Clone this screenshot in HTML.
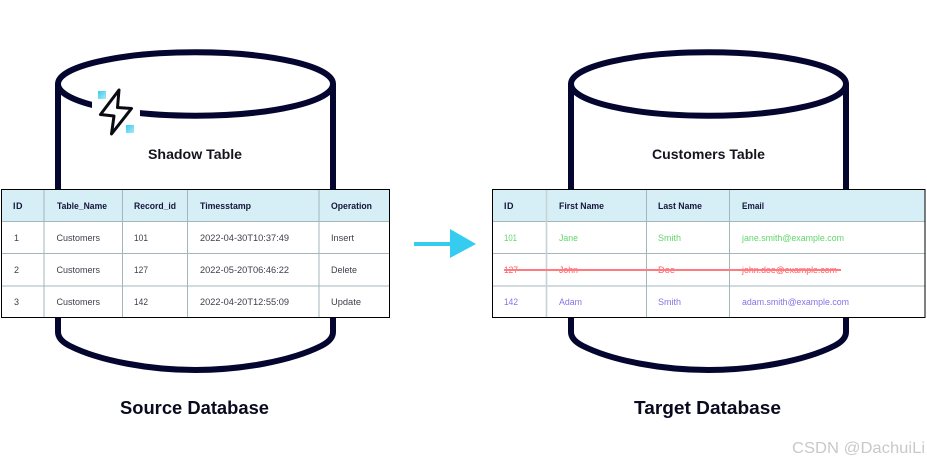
<!DOCTYPE html>
<html><head><meta charset="utf-8"><style>
html,body{margin:0;padding:0;background:#fff;width:927px;height:462px;overflow:hidden}
svg{display:block}
text{font-family:"Liberation Sans",sans-serif}
.h{font-size:9px;font-weight:bold;fill:#14163a}
.b{font-size:9px;fill:#3c3f4a}
.g{font-size:9px;fill:#62d66c}
.r{font-size:9px;fill:#ff5a60}
.p{font-size:9px;fill:#8474e6}
.t{font-size:14px;font-weight:bold;fill:#14141e}
.d{font-size:18px;font-weight:bold;fill:#0a0a1e}
.grid{stroke:#a3b6ba;stroke-width:1;fill:none}
</style></head><body>
<svg width="927" height="462" viewBox="0 0 927 462" xmlns="http://www.w3.org/2000/svg">
<defs>
<linearGradient id="q" x1="0" y1="0" x2="1" y2="1"><stop offset="0" stop-color="#3ccbef"/><stop offset="1" stop-color="#a5e9f5"/></linearGradient>
<filter id="s" x="-2%" y="-5%" width="104%" height="110%"><feGaussianBlur stdDeviation="0.3"/></filter>
</defs>

<g fill="none" stroke="#05062f" stroke-width="6">
<ellipse cx="195.5" cy="84" rx="137.5" ry="31.7"/>
<path d="M58 84V190M333 84V190"/>
<path d="M58 318V332Q58 340 70 346C100 361 150 370 195.5 370C241 370 291 361 321 346Q333 340 333 332V318"/>
<ellipse cx="708.5" cy="84" rx="137.5" ry="31.7"/>
<path d="M571 84V190M846 84V190"/>
<path d="M571 318V332Q571 340 583 346C613 361 663 370 708.5 370C754 370 804 361 834 346Q846 340 846 332V318"/>
</g>
<rect x="92" y="100" width="48" height="26" fill="#fff"/>

<path d="M119 90L100.5 114.5L114 116L111.5 134L131.5 108.5L117.5 107.5Z" fill="#fff" stroke="#0a0a12" stroke-width="3" stroke-linejoin="round"/>
<rect x="98" y="91" width="8" height="8" fill="url(#q)"/>
<rect x="126" y="125" width="8" height="8" fill="url(#q)"/>

<text class="t" x="148" y="159" textLength="94" lengthAdjust="spacingAndGlyphs">Shadow Table</text>
<text class="t" x="652" y="159" textLength="113" lengthAdjust="spacingAndGlyphs">Customers Table</text>
<text class="d" x="120" y="414" textLength="149" lengthAdjust="spacingAndGlyphs">Source Database</text>
<text class="d" x="634" y="414" textLength="147" lengthAdjust="spacingAndGlyphs">Target Database</text>

<!-- left table -->
<rect x="1.5" y="189.5" width="388" height="128" fill="#fff"/>
<rect x="1.5" y="189.5" width="388" height="32" fill="#d6eff6"/>
<path class="grid" d="M1.5 221.5H389.5M1.5 253.5H389.5M1.5 286H389.5"/>
<path class="grid" d="M44 189.5V317.5M122.5 189.5V317.5M187.5 189.5V317.5M319 189.5V317.5"/>
<rect x="1.5" y="189.5" width="388" height="128" fill="none" stroke="#000" stroke-width="1"/>
<g filter="url(#s)">
<text class="h" x="13" y="209" textLength="9.5">ID</text>
<text class="h" x="57" y="209" textLength="50" lengthAdjust="spacingAndGlyphs">Table_Name</text>
<text class="h" x="134" y="209" textLength="42" lengthAdjust="spacingAndGlyphs">Record_id</text>
<text class="h" x="200" y="209" textLength="51" lengthAdjust="spacingAndGlyphs">Timesstamp</text>
<text class="h" x="331" y="209" textLength="41" lengthAdjust="spacingAndGlyphs">Operation</text>
<text class="b" x="14" y="241">1</text><text class="b" x="56.5" y="241" textLength="43.5" lengthAdjust="spacingAndGlyphs">Customers</text><text class="b" x="134" y="241" textLength="14" lengthAdjust="spacingAndGlyphs">101</text><text class="b" x="200" y="241" textLength="89" lengthAdjust="spacingAndGlyphs">2022-04-30T10:37:49</text><text class="b" x="331" y="241" textLength="23" lengthAdjust="spacingAndGlyphs">Insert</text>
<text class="b" x="14" y="273">2</text><text class="b" x="56.5" y="273" textLength="43.5" lengthAdjust="spacingAndGlyphs">Customers</text><text class="b" x="134" y="273" textLength="14" lengthAdjust="spacingAndGlyphs">127</text><text class="b" x="200" y="273" textLength="89" lengthAdjust="spacingAndGlyphs">2022-05-20T06:46:22</text><text class="b" x="331" y="273" textLength="26" lengthAdjust="spacingAndGlyphs">Delete</text>
<text class="b" x="14" y="305">3</text><text class="b" x="56.5" y="305" textLength="43.5" lengthAdjust="spacingAndGlyphs">Customers</text><text class="b" x="134" y="305" textLength="14" lengthAdjust="spacingAndGlyphs">142</text><text class="b" x="200" y="305" textLength="89" lengthAdjust="spacingAndGlyphs">2022-04-20T12:55:09</text><text class="b" x="331" y="305" textLength="30" lengthAdjust="spacingAndGlyphs">Update</text>
</g>

<!-- arrow -->
<rect x="414" y="242" width="38" height="4" fill="#36ccef"/>
<path d="M450 229L476 244L450 258Z" fill="#36ccef"/>

<!-- right table -->
<rect x="492.5" y="189.5" width="432.5" height="128" fill="#fff"/>
<rect x="492.5" y="189.5" width="432.5" height="32" fill="#d6eff6"/>
<path class="grid" d="M492.5 221.5H925M492.5 253.5H925M492.5 286H925"/>
<path class="grid" d="M646.5 189.5V317.5M729.5 189.5V317.5"/>
<path d="M546.5 189.5V317.5" stroke="#c5d3d6" stroke-width="1.6" fill="none"/>
<rect x="492.5" y="189.5" width="432.5" height="128" fill="none" stroke="#000" stroke-width="1"/>
<g filter="url(#s)">
<text class="h" x="504" y="209" textLength="9.5">ID</text>
<text class="h" x="559" y="209" textLength="45" lengthAdjust="spacingAndGlyphs">First Name</text>
<text class="h" x="658" y="209" textLength="44" lengthAdjust="spacingAndGlyphs">Last Name</text>
<text class="h" x="742" y="209" textLength="22" lengthAdjust="spacingAndGlyphs">Email</text>
<text class="g" x="504" y="241" textLength="13" lengthAdjust="spacingAndGlyphs">101</text><text class="g" x="559" y="241" textLength="19" lengthAdjust="spacingAndGlyphs">Jane</text><text class="g" x="658" y="241" textLength="23" lengthAdjust="spacingAndGlyphs">Smith</text><text class="g" x="742" y="241" textLength="102" lengthAdjust="spacingAndGlyphs">jane.smith@example.com</text>
<text class="r" x="504" y="273" textLength="14" lengthAdjust="spacingAndGlyphs">127</text><text class="r" x="559" y="273" textLength="19" lengthAdjust="spacingAndGlyphs">John</text><text class="r" x="658" y="273" textLength="17" lengthAdjust="spacingAndGlyphs">Doe</text><text class="r" x="742" y="273" textLength="95" lengthAdjust="spacingAndGlyphs">john.doe@example.com</text>
<text class="p" x="504" y="305" textLength="14" lengthAdjust="spacingAndGlyphs">142</text><text class="p" x="559" y="305" textLength="23" lengthAdjust="spacingAndGlyphs">Adam</text><text class="p" x="658" y="305" textLength="23" lengthAdjust="spacingAndGlyphs">Smith</text><text class="p" x="742" y="305" textLength="107" lengthAdjust="spacingAndGlyphs">adam.smith@example.com</text>
</g>
<rect x="504" y="269" width="337" height="2" fill="#ff7b80"/>

<text x="792" y="453" font-size="16" fill="#c9c9c9" textLength="133" lengthAdjust="spacingAndGlyphs">CSDN @DachuiLi</text>
</svg>
</body></html>
